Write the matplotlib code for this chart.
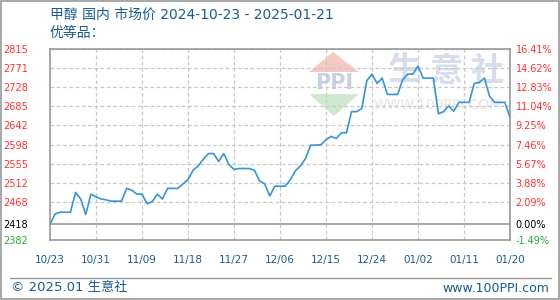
import matplotlib
matplotlib.use("Agg")
import matplotlib.pyplot as plt
from matplotlib.patches import Polygon, Rectangle
from matplotlib.lines import Line2D

# methanol price, one value per day from 2024-10-23 to 2025-01-21
prices = [
    2418, 2441, 2445, 2445, 2445, 2490, 2475, 2440, 2486, 2480,
    2475, 2473, 2470, 2470, 2470, 2499, 2495, 2486, 2486, 2464,
    2469, 2486, 2475, 2499, 2499, 2499, 2509, 2519, 2540, 2550,
    2565, 2578, 2578, 2560, 2578, 2553, 2542, 2544, 2544, 2544,
    2540, 2516, 2509, 2482, 2504, 2504, 2504, 2518, 2539, 2550,
    2567, 2597, 2597, 2598, 2609, 2617, 2612, 2625, 2625, 2673,
    2673, 2680, 2744, 2758, 2737, 2749, 2712, 2712, 2712, 2745,
    2758, 2758, 2776, 2749, 2749, 2749, 2668, 2673, 2686, 2674,
    2694, 2694, 2694, 2737, 2739, 2749, 2708, 2694, 2694, 2694,
    2660,
]
days = list(range(len(prices)))

x_labels = ["10/23", "10/31", "11/09", "11/18", "11/27", "12/06",
            "12/15", "12/24", "01/02", "01/11", "01/20"]
y_ticks = [2382, 2418, 2468, 2512, 2555, 2598, 2642, 2685, 2728, 2771, 2815]
pct_labels = ["-1.49%", "0.00%", "2.09%", "3.88%", "5.67%", "7.46%",
              "9.25%", "11.04%", "12.83%", "14.62%", "16.41%"]
base = 2418

blue_txt = "#1a5b8e"
red = "#ff3030"
green = "#2eaa2e"
grey = "#999999"
fonts = ["DejaVu Sans", "Noto Sans CJK SC"]

fig = plt.figure(figsize=(5.6, 3.0), dpi=100)
ax = fig.add_axes([50 / 560, 60 / 300, 460 / 560, 191 / 300])

ax.set_xlim(0, 90)
ax.set_ylim(y_ticks[0], y_ticks[-1])

# grid
for v in y_ticks[2:]:
    ax.axhline(v, color="#c8c8c8", lw=0.9, ls=(0, (3, 2)), zorder=1)
for i in range(1, len(x_labels) - 1):
    ax.axvline(i * 9, color="#c8c8c8", lw=0.9, ls=(0, (3, 2)), zorder=1)
ax.axhline(base, color=grey, lw=1.2, zorder=2)

# watermark
def axp(px, py):
    return ((px - 50) / 460, (240 - py) / 191)

ax.add_patch(Polygon([axp(333, 52), axp(309, 72), axp(359, 72)],
                     closed=True, transform=ax.transAxes, color="#f5c9c3", lw=0, zorder=0))
ax.add_patch(Polygon([axp(309, 94), axp(359, 94), axp(334, 116)],
                     closed=True, transform=ax.transAxes, color="#d0ead2", lw=0, zorder=0))
ax.text(*axp(334, 83), "PPI", transform=ax.transAxes, ha="center", va="center",
        fontsize=15, fontweight="bold", family="DejaVu Sans", color="#c9d0e2", zorder=0)
for cx, ch in zip([405, 446, 487], "生意社"):
    ax.text(*axp(cx, 71), ch, transform=ax.transAxes, ha="center", va="center",
            fontsize=24, fontweight="bold", family="Noto Sans CJK SC", color="#d7ddea", zorder=0)
ax.text(*axp(438, 105), "WWW.100PPI.COM", transform=ax.transAxes, ha="center", va="center",
        fontsize=10, family="DejaVu Sans", color="#e4e4e4", zorder=0)

ax.plot(days, prices, color="#3595d6", lw=1.2, zorder=3)

for s in ax.spines.values():
    s.set_color(grey)
    s.set_linewidth(1.2)

ax.set_xticks([i * 9 for i in range(len(x_labels))])
ax.set_xticklabels(x_labels, fontsize=7.5, color=blue_txt, family="DejaVu Sans")
ax.tick_params(axis="x", length=0, pad=11)

ax.set_yticks(y_ticks)
ax.set_yticklabels([str(v) for v in y_ticks], fontsize=7, family="DejaVu Sans")
ax.tick_params(axis="y", length=0, pad=16)

ax2 = ax.twinx()
ax2.set_ylim(ax.get_ylim())
ax2.set_yticks(y_ticks)
ax2.set_yticklabels(pct_labels, fontsize=7, family="DejaVu Sans")
ax2.tick_params(axis="y", length=0, pad=4)
for s in ax2.spines.values():
    s.set_visible(False)

for lab_set in (ax.get_yticklabels(), ax2.get_yticklabels()):
    for i, t in enumerate(lab_set):
        t.set_color(green if i == 0 else ("black" if i == 1 else red))

fig.text(50 / 560, 1 - 15 / 300, "甲醇 国内 市场价 2024-10-23 - 2025-01-21",
         fontsize=10, color=blue_txt, family=fonts, va="center", ha="left")
fig.text(50 / 560, 1 - 33 / 300, "优等品：", fontsize=10, color=blue_txt,
         family=fonts, va="center", ha="left")

fig.add_artist(Line2D([10 / 560, 551 / 560], [1 - 277.5 / 300] * 2, color=grey, lw=1))
fig.text(11 / 560, 1 - 288 / 300, "© 2025.01 生意社", fontsize=9.5, color=blue_txt,
         family=fonts, va="center", ha="left")
fig.text(549 / 560, 1 - 288 / 300, "www.100PPI.com", fontsize=9, color=blue_txt,
         family=fonts, va="center", ha="right")
fig.add_artist(Rectangle((0.001, 0.002), 0.997, 0.996, transform=fig.transFigure,
                         fill=False, edgecolor=grey, lw=1.2))

fig.savefig("out.png", dpi=100)
